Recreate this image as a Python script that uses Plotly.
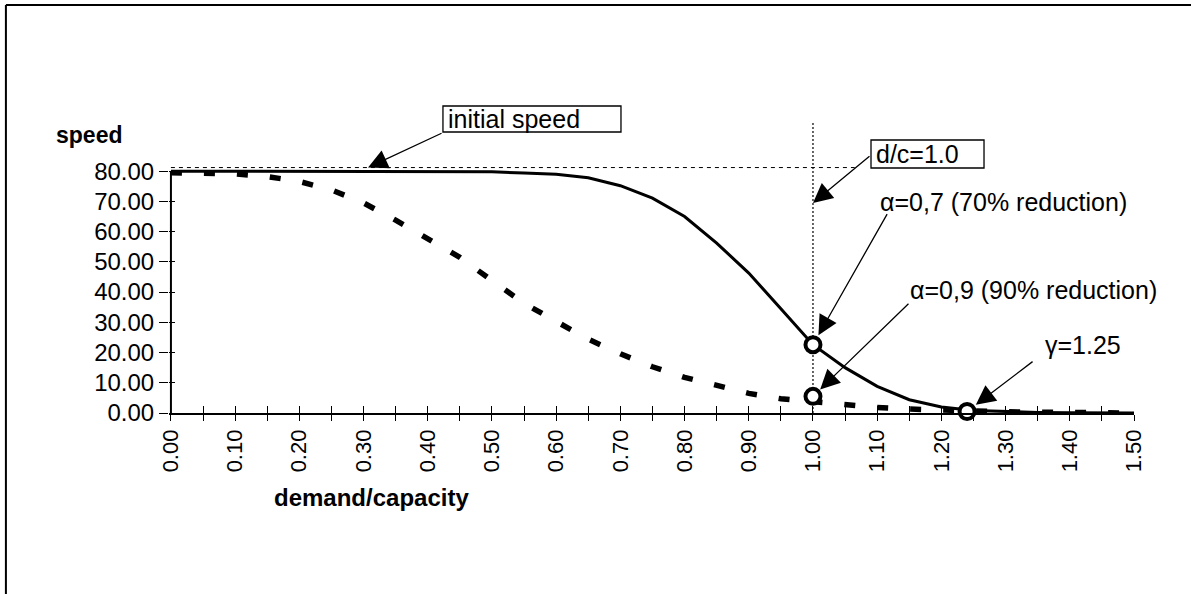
import plotly.graph_objects as go

# ---------------- data ----------------
DC = [0.00, 0.05, 0.10, 0.15, 0.20, 0.25, 0.30, 0.35, 0.40, 0.45,
      0.50, 0.55, 0.60, 0.65, 0.70, 0.75, 0.80, 0.85, 0.90, 0.95,
      1.00, 1.05, 1.10, 1.15, 1.20, 1.25, 1.30, 1.35, 1.40, 1.45, 1.50]

SPEED_ALPHA07 = [80.0, 80.0, 80.0, 80.0, 80.0, 80.0, 80.0, 80.0, 80.0, 80.0,
                 79.8, 79.4, 79.0, 77.8, 75.2, 71.1, 65.0, 56.2, 46.3, 34.5,
                 22.6, 15.0, 8.8, 4.4, 2.0, 0.8, 0.4, 0.2, 0.1, 0.05, 0.0]

SPEED_ALPHA09 = [79.5, 79.4, 79.1, 78.2, 76.6, 73.8, 69.5, 63.8, 57.8, 51.5,
                 43.8, 36.3, 30.3, 24.4, 19.6, 15.3, 11.8, 9.0, 6.5, 4.7,
                 3.7, 2.7, 1.8, 1.3, 0.9, 0.6, 0.4, 0.25, 0.1, 0.05, 0.0]

MARK_X = [1.00, 1.00, 1.24]
MARK_Y = [22.6, 5.5, 0.5]

INITIAL_SPEED = 81.2
INIT_LINE_X = [0.0, 1.065]
DC_REF = 1.0
DC_LINE_Y = [0.0, 96.5]

X_TICK_VALUES = [0.00, 0.05, 0.10, 0.15, 0.20, 0.25, 0.30, 0.35, 0.40, 0.45,
                 0.50, 0.55, 0.60, 0.65, 0.70, 0.75, 0.80, 0.85, 0.90, 0.95,
                 1.00, 1.05, 1.10, 1.15, 1.20, 1.25, 1.30, 1.35, 1.40, 1.45, 1.50]
X_TICK_LABELS = ["0.00", "", "0.10", "", "0.20", "", "0.30", "", "0.40", "",
                 "0.50", "", "0.60", "", "0.70", "", "0.80", "", "0.90", "",
                 "1.00", "", "1.10", "", "1.20", "", "1.30", "", "1.40", "", "1.50"]
Y_TICK_VALUES = [0, 10, 20, 30, 40, 50, 60, 70, 80]
Y_TICK_LABELS = ["0.00", "10.00", "20.00", "30.00", "40.00",
                 "50.00", "60.00", "70.00", "80.00"]

# ---------------- layout geometry ----------------
W, H = 1191, 594
X_RANGE = [-0.003, 1.5]
Y_RANGE = [0, 96.6]
L, R, T, B = 169.07, 57.03, 121, 181
PW = W - L - R
PH = H - T - B
FONT = "Liberation Sans, Arial, sans-serif"


def paper_x(px):
    return (px - L) / PW


def paper_y(py):
    return (H - B - py) / PH


fig = go.Figure()

# reference lines
fig.add_trace(go.Scatter(x=INIT_LINE_X, y=[INITIAL_SPEED, INITIAL_SPEED], mode="lines",
                         line=dict(color="black", width=1, dash="4px,4px"),
                         hoverinfo="skip", showlegend=False))
fig.add_trace(go.Scatter(x=[DC_REF, DC_REF], y=DC_LINE_Y, mode="lines",
                         line=dict(color="black", width=1.2, dash="2px,2px"),
                         hoverinfo="skip", showlegend=False))

# curves
fig.add_trace(go.Scatter(x=DC, y=SPEED_ALPHA09, mode="lines",
                         line=dict(color="black", width=5.5, dash="11px,22px"),
                         showlegend=False))
fig.add_trace(go.Scatter(x=DC, y=SPEED_ALPHA07, mode="lines",
                         line=dict(color="black", width=3),
                         showlegend=False))
fig.add_trace(go.Scatter(x=MARK_X, y=MARK_Y, mode="markers",
                         marker=dict(symbol="circle", size=15, color="white",
                                     line=dict(color="black", width=4)),
                         cliponaxis=False, showlegend=False))
# carrier trace for the overlay axes (inner tick halves)
fig.add_trace(go.Scatter(x=[None], y=[None], xaxis="x2", yaxis="y2",
                         mode="lines", showlegend=False, hoverinfo="skip"))

# y axis line (only 0..80)
fig.add_shape(type="line", xref="x", yref="y", x0=0, x1=0, y0=Y_TICK_VALUES[0],
              y1=Y_TICK_VALUES[-1], line=dict(color="black", width=2))

# figure frame (top and left edges)
fig.add_shape(type="line", xref="paper", yref="paper", x0=paper_x(6), x1=paper_x(W + 5),
              y0=paper_y(5), y1=paper_y(5), line=dict(color="black", width=2))
fig.add_shape(type="line", xref="paper", yref="paper", x0=paper_x(6), x1=paper_x(6),
              y0=paper_y(5), y1=paper_y(H + 5), line=dict(color="black", width=2))

# label boxes
for x0, x1, y0, y1 in [(443, 621, 106, 132), (871, 984, 140, 168)]:
    fig.add_shape(type="rect", xref="paper", yref="paper",
                  x0=paper_x(x0), x1=paper_x(x1), y0=paper_y(y1), y1=paper_y(y0),
                  line=dict(color="black", width=1.3), fillcolor="white", layer="above")

# arrows (tip in data coords, tail as pixel offset)
ARROWS = [
    dict(x=0.307, y=INITIAL_SPEED, ax=75, ay=-35, standoff=0),
    dict(x=DC_REF, y=69.5, ax=58, ay=-48, standoff=0),
    dict(x=MARK_X[0], y=MARK_Y[0], ax=75, ay=-132, standoff=11),
    dict(x=MARK_X[1], y=MARK_Y[1], ax=97, ay=-94, standoff=10),
    dict(x=MARK_X[2], y=MARK_Y[2], ax=67, ay=-51, standoff=11),
]
for a in ARROWS:
    fig.add_annotation(x=a["x"], y=a["y"], xref="x", yref="y", ax=a["ax"], ay=a["ay"],
                       text="", showarrow=True, arrowhead=2, arrowsize=3,
                       arrowwidth=1.3, arrowcolor="black", standoff=a["standoff"],
                       startstandoff=0)

ANN_FONT = dict(family=FONT, size=25, color="black")
for txt, px, py in [("initial speed", 447, 119),
                    ("d/c=1.0", 875, 154),
                    ("α=0,7 (70% reduction)", 879, 202),
                    ("α=0,9 (90% reduction)", 909, 290),
                    ("γ=1.25", 1044, 345)]:
    fig.add_annotation(xref="paper", yref="paper", x=paper_x(px), y=paper_y(py),
                       xanchor="left", yanchor="middle", text=txt, showarrow=False,
                       font=ANN_FONT, borderpad=0)

# axis titles
fig.add_annotation(xref="paper", yref="paper", x=paper_x(55), y=paper_y(135),
                   xanchor="left", yanchor="middle", text="<b>speed</b>", showarrow=False,
                   font=dict(family=FONT, size=23, color="black"), borderpad=0)
fig.add_annotation(xref="paper", yref="paper", x=paper_x(372), y=paper_y(497),
                   xanchor="center", yanchor="middle", text="<b>demand/capacity</b>",
                   showarrow=False, font=dict(family=FONT, size=24, color="black"),
                   borderpad=0)

fig.update_layout(
    width=W, height=H,
    margin=dict(l=L, r=R, t=T, b=B, pad=0),
    paper_bgcolor="white", plot_bgcolor="white",
    showlegend=False,
    xaxis=dict(range=X_RANGE, showgrid=False, zeroline=False, showline=True,
               linecolor="black", linewidth=1.5, ticks="outside", ticklen=6,
               tickwidth=1, tickcolor="black", tickvals=X_TICK_VALUES,
               ticktext=X_TICK_LABELS, tickangle=-90,
               tickfont=dict(family=FONT, size=22, color="black")),
    yaxis=dict(range=Y_RANGE, showgrid=False, zeroline=False, showline=False,
               ticks="outside", ticklen=9, tickwidth=1, tickcolor="black",
               tickvals=Y_TICK_VALUES, ticktext=Y_TICK_LABELS,
               tickfont=dict(family=FONT, size=24, color="black")),
    xaxis2=dict(range=X_RANGE, overlaying="x", anchor="y", side="bottom",
                showgrid=False, zeroline=False, showline=False, ticks="inside",
                ticklen=7, tickwidth=1, tickcolor="black", tickvals=X_TICK_VALUES,
                showticklabels=False),
    yaxis2=dict(range=Y_RANGE, overlaying="y", anchor="x", side="left",
                showgrid=False, zeroline=False, showline=False, ticks="inside",
                ticklen=6, tickwidth=1, tickcolor="black", tickvals=Y_TICK_VALUES,
                showticklabels=False),
)

fig.write_html("out.html")
